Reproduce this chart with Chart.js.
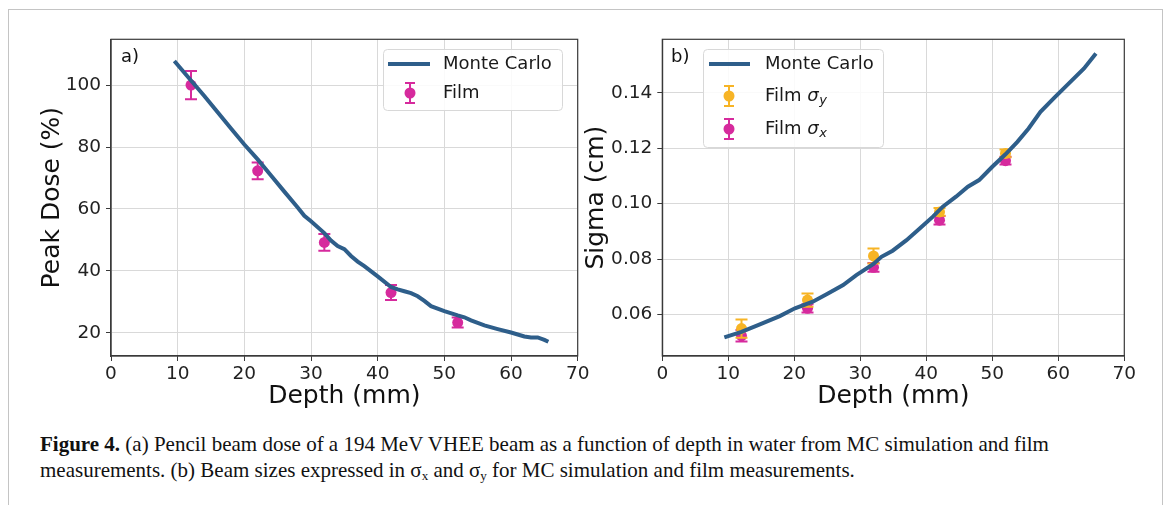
<!DOCTYPE html>
<html>
<head>
<meta charset="utf-8">
<script src="https://cdn.jsdelivr.net/npm/chart.js@4.4.1/dist/chart.umd.min.js"></script>
<style>
  body { margin: 0; background: #fff; width: 1170px; height: 505px; overflow: hidden; position: relative; }
  .frame { position: absolute; left: 8px; top: 9px; width: 1155px; height: 520px; border: 1px solid #c4c4c4; border-bottom: none; box-sizing: border-box; }
  canvas { position: absolute; top: 0; }
  #chartA { left: 0; }
  #chartB { left: 575px; }
  .panel { position: absolute; font: 18px "DejaVu Sans"; color: #111; line-height: 1; }
  .caption { position: absolute; left: 40px; top: 431px; font: 21px "Liberation Serif"; color: #111; line-height: 26px; white-space: nowrap; }
  .caption sub { font-size: 13px; vertical-align: -3px; line-height: 0; }
</style>
</head>
<body>
<div class="frame"></div>
<canvas id="chartA" width="600" height="420"></canvas>
<canvas id="chartB" width="595" height="420"></canvas>
<div class="panel" style="left:121px;top:47px">a)</div>
<div class="panel" style="left:671px;top:47px">b)</div>
<div class="caption"><b>Figure 4.</b> (a) Pencil beam dose of a 194 MeV VHEE beam as a function of depth in water from MC simulation and film<br>measurements. (b) Beam sizes expressed in σ<sub>x</sub> and σ<sub>y</sub> for MC simulation and film measurements.</div>
<script>
// --- panel a) : peak dose ---
const depthMcA = [9.5, 12, 14, 16, 18, 20, 22, 24, 26, 28, 29, 30, 32, 33, 34, 35, 36, 37, 38, 40, 42, 43, 44, 45, 46, 47, 48, 50, 52, 53, 54, 56, 58, 60, 62, 63, 64, 65, 65.6];
const doseMc = [107.8, 101.5, 96.5, 91.2, 86, 80.8, 76, 70.8, 65.6, 60.5, 57.8, 56, 52.2, 49.8, 48, 47, 44.8, 43, 41.5, 38.2, 34.8, 34, 33.4, 32.8, 31.8, 30.3, 28.6, 27, 25.6, 25, 24, 22.4, 21.2, 20.1, 18.8, 18.5, 18.5, 17.7, 17.1];
const depthFilm = [12, 22, 32, 42, 52];
const doseFilm = [100, 72.3, 49.2, 33, 23.3];
const doseFilmErr = [4.6, 2.7, 2.7, 2.4, 1.6];

// --- panel b) : beam sigma ---
const depthMcB = [9.4, 12, 14.6, 17.8, 20.1, 22.8, 25.1, 27.4, 29.4, 32, 33.2, 34.9, 37, 39, 41, 42.5, 44.5, 46.3, 48, 50, 52, 53.8, 55.5, 57.3, 59.3, 61.6, 63.9, 65.7];
const sigmaMc = [0.0517, 0.0537, 0.0562, 0.0594, 0.0622, 0.0646, 0.0676, 0.0706, 0.0742, 0.0782, 0.0808, 0.0830, 0.0868, 0.0910, 0.0953, 0.0989, 0.1025, 0.1061, 0.1085, 0.1133, 0.1178, 0.1223, 0.1271, 0.1331, 0.1380, 0.1434, 0.1488, 0.1542];
const sigmaY = [0.0549, 0.0652, 0.0811, 0.0970, 0.1181];
const sigmaYErr = [0.0033, 0.0024, 0.0027, 0.0014, 0.0014];
const sigmaX = [0.0523, 0.0622, 0.0770, 0.0940, 0.1155];
const sigmaXErr = [0.0021, 0.0015, 0.0016, 0.0015, 0.0014];

const xTicks = [0, 10, 20, 30, 40, 50, 60, 70];
const yTicksA = [20, 40, 60, 80, 100];
const yTicksB = [0.06, 0.08, 0.10, 0.12, 0.14];
const labelsA = ["Monte Carlo", "Film"];
const labelsB = ["Monte Carlo", "Film σ_y", "Film σ_x"];

const MC_BLUE = "#2e5e8a";
const PINK = "#d62a9d";
const ORANGE = "#f7b425";

Chart.defaults.font.family = "DejaVu Sans";
Chart.defaults.color = "#222";

const pts = (xs, ys) => xs.map((x, i) => ({ x: x, y: ys[i] }));

// error bars drawn just before each dataset's own markers
const errorBars = {
  id: "errorBars",
  beforeDatasetDraw(chart, args) {
    const ds = chart.data.datasets[args.index];
    if (!ds.errors) return;
    const ctx = chart.ctx, sx = chart.scales.x, sy = chart.scales.y;
    ctx.save();
    ctx.strokeStyle = ds.backgroundColor;
    ctx.lineWidth = 2;
    ds.data.forEach((p, i) => {
      const px = sx.getPixelForValue(p.x);
      const t = sy.getPixelForValue(p.y + ds.errors[i]);
      const b = sy.getPixelForValue(p.y - ds.errors[i]);
      ctx.beginPath();
      ctx.moveTo(px, t); ctx.lineTo(px, b);
      ctx.moveTo(px - 6, t); ctx.lineTo(px + 6, t);
      ctx.moveTo(px - 6, b); ctx.lineTo(px + 6, b);
      ctx.stroke();
    });
    ctx.restore();
  }
};

// full box around the plot area
const frameBox = {
  id: "frameBox",
  afterDatasetsDraw(chart) {
    const a = chart.chartArea, ctx = chart.ctx;
    ctx.save();
    ctx.strokeStyle = "#3a3a3a";
    ctx.lineWidth = 1.2;
    ctx.strokeRect(a.left, a.top, a.right - a.left, a.bottom - a.top);
    ctx.restore();
  }
};

// matplotlib-like legend box
function drawLabel(ctx, text, x, y) {
  const parts = text.split("σ_");
  ctx.font = "18px 'DejaVu Sans'";
  ctx.fillText(parts[0], x, y);
  if (parts.length < 2) return;
  let cx = x + ctx.measureText(parts[0]).width;
  ctx.font = "italic 18px 'DejaVu Sans'";
  ctx.fillText("σ", cx, y);
  cx += ctx.measureText("σ").width;
  ctx.font = "italic 13px 'DejaVu Sans'";
  ctx.fillText(parts[1], cx + 0.5, y + 5);
}

function legendPlugin(box, rows, lineX, markX, textX) {
  return {
    id: "mplLegend",
    afterDraw(chart) {
      const ctx = chart.ctx;
      ctx.save();
      ctx.fillStyle = "rgba(255,255,255,0.85)";
      ctx.strokeStyle = "#d8d8d8";
      ctx.lineWidth = 1;
      ctx.beginPath();
      ctx.roundRect(box[0], box[1], box[2], box[3], 4);
      ctx.fill(); ctx.stroke();
      chart.data.datasets.forEach((ds, i) => {
        const y = rows[i];
        if (ds.showLine) {
          ctx.strokeStyle = ds.borderColor;
          ctx.lineWidth = 4;
          ctx.beginPath();
          ctx.moveTo(lineX[0], y); ctx.lineTo(lineX[1], y);
          ctx.stroke();
        } else {
          ctx.strokeStyle = ds.backgroundColor;
          ctx.fillStyle = ds.backgroundColor;
          ctx.lineWidth = 2;
          ctx.beginPath();
          ctx.moveTo(markX, y - 10); ctx.lineTo(markX, y + 10);
          ctx.moveTo(markX - 5, y - 10); ctx.lineTo(markX + 5, y - 10);
          ctx.moveTo(markX - 5, y + 10); ctx.lineTo(markX + 5, y + 10);
          ctx.stroke();
          ctx.beginPath();
          ctx.arc(markX, y, 5.5, 0, Math.PI * 2);
          ctx.fill();
        }
        ctx.fillStyle = "#1a1a1a";
        ctx.textBaseline = "middle";
        drawLabel(ctx, ds.label, textX, y);
      });
      ctx.restore();
    }
  };
}

function axes(yMin, yMax, yTicks, yTitle, yAxisWidth, yTitlePad, fmt) {
  const grid = { color: "#d9d9d9", lineWidth: 1, tickColor: "#3a3a3a", tickLength: 5, drawTicks: true };
  return {
    x: {
      type: "linear", min: 0, max: 70,
      afterBuildTicks: s => { s.ticks = xTicks.map(v => ({ value: v })); },
      afterFit: s => { s.height = 64; },
      ticks: { font: { size: 18.5 }, padding: 2, color: "#222" },
      grid: grid,
      border: { color: "#3a3a3a", width: 1.2 },
      title: { display: true, text: "Depth (mm)", font: { size: 25 }, color: "#111", padding: { top: 0, bottom: 9 } }
    },
    y: {
      type: "linear", min: yMin, max: yMax,
      afterBuildTicks: s => { s.ticks = yTicks.map(v => ({ value: v })); },
      afterFit: s => { s.width = yAxisWidth; },
      ticks: { font: { size: 18.5 }, padding: 5, color: "#222", callback: fmt },
      grid: grid,
      border: { color: "#3a3a3a", width: 1.2 },
      title: { display: true, text: yTitle, font: { size: 25 }, color: "#111", padding: { top: yTitlePad, bottom: 0 } }
    }
  };
}

const common = {
  responsive: false,
  animation: false,
  events: [],
  plugins: { legend: { display: false }, tooltip: { enabled: false } }
};

new Chart(document.getElementById("chartA"), {
  type: "scatter",
  data: {
    datasets: [
      { label: labelsA[0], data: pts(depthMcA, doseMc), showLine: true, borderColor: MC_BLUE, borderWidth: 4, pointRadius: 0, tension: 0 },
      { label: labelsA[1], data: pts(depthFilm, doseFilm), errors: doseFilmErr, backgroundColor: PINK, borderColor: PINK, pointRadius: 5.5, borderWidth: 0 }
    ]
  },
  options: Object.assign({}, common, {
    layout: { padding: { left: 0, top: 39.3, right: 22.3, bottom: 0 } },
    scales: axes(12.5, 114.8, yTicksA, "Peak Dose (%)", 111, 37, v => String(v))
  }),
  plugins: [errorBars, frameBox, legendPlugin([383.5, 49.5, 179, 61], [64, 93], [388, 430], 410, 443)]
});

new Chart(document.getElementById("chartB"), {
  type: "scatter",
  data: {
    datasets: [
      { label: labelsB[0], data: pts(depthMcB, sigmaMc), showLine: true, borderColor: MC_BLUE, borderWidth: 4, pointRadius: 0, tension: 0 },
      { label: labelsB[1], data: pts(depthFilm, sigmaY), errors: sigmaYErr, backgroundColor: ORANGE, borderColor: ORANGE, pointRadius: 5.5, borderWidth: 0 },
      { label: labelsB[2], data: pts(depthFilm, sigmaX), errors: sigmaXErr, backgroundColor: PINK, borderColor: PINK, pointRadius: 5.5, borderWidth: 0 }
    ]
  },
  options: Object.assign({}, common, {
    layout: { padding: { left: 0, top: 39.3, right: 45.7, bottom: 0 } },
    scales: axes(0.045, 0.1593, yTicksB, "Sigma (cm)", 87.3, 6, v => v.toFixed(2))
  }),
  plugins: [errorBars, frameBox, legendPlugin([128.5, 49.5, 180, 98], [64, 96, 129], [134, 175], 154, 190)]
});
</script>
</body>
</html>
